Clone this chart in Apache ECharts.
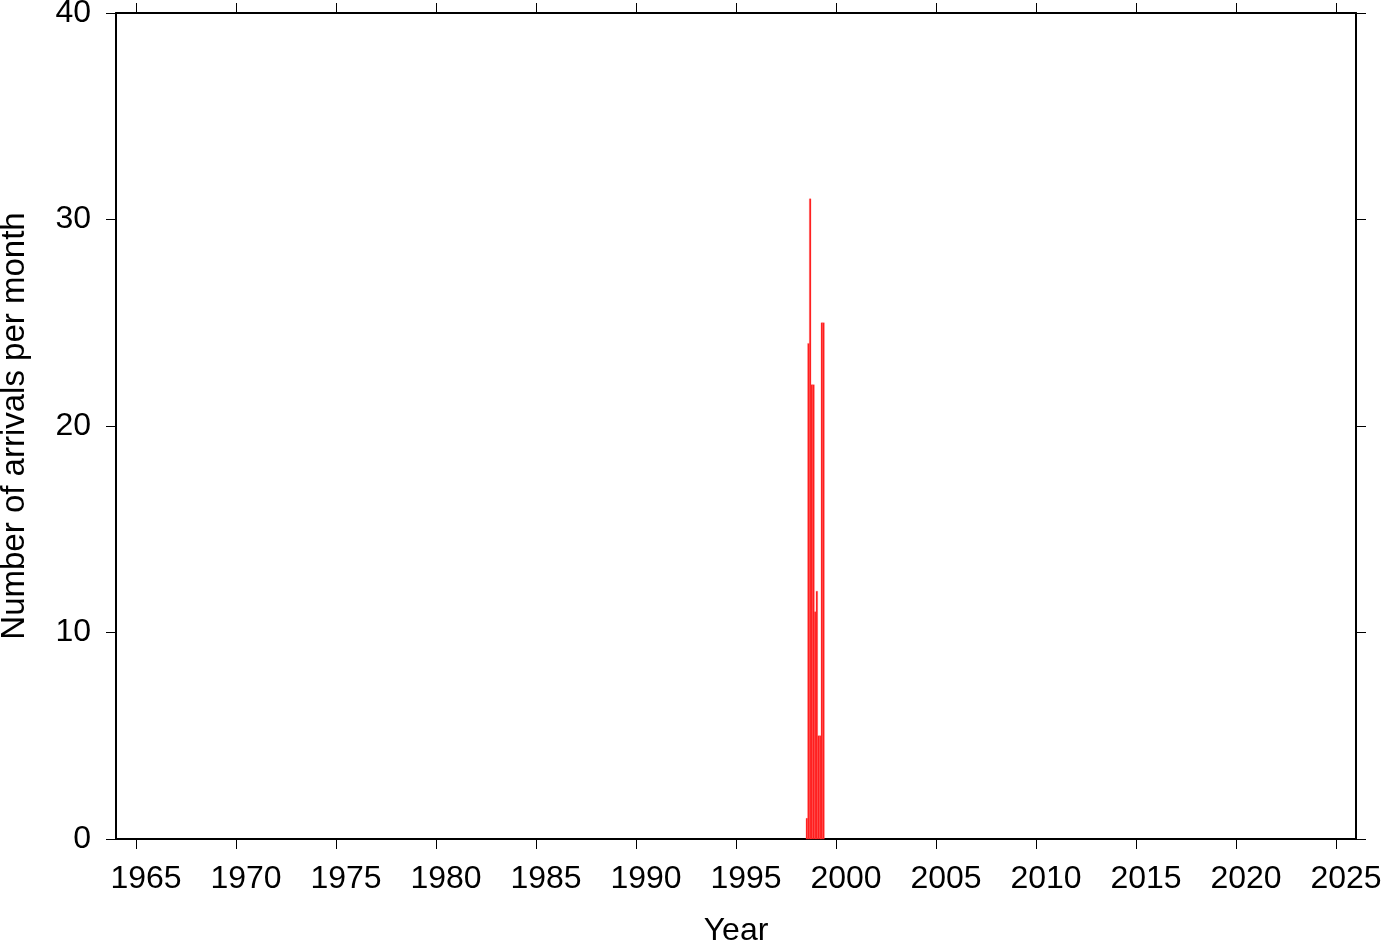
<!DOCTYPE html>
<html>
<head>
<meta charset="utf-8">
<style>html,body{margin:0;padding:0;background:#fff}#c{width:1382px;height:942px}</style>
<script src="https://cdn.jsdelivr.net/npm/echarts@6/dist/echarts.min.js"></script>
</head>
<body>
<div id="c"></div>
<script>
// Monthly arrival counts (year, month, count)
const months = ['1998-07','1998-08','1998-09','1998-10','1998-11','1998-12','1999-01','1999-02','1999-03','1999-04','1999-05'];
const counts = [1, 24, 31, 22, 22, 11, 12, 5, 5, 25, 25];
const xTicks = [1965,1970,1975,1980,1985,1990,1995,2000,2005,2010,2015,2020,2025];
const yTicks = [0,10,20,30,40];

const data = months.map((m, i) => {
  const [y, mo] = m.split('-').map(Number);
  const start = y + (mo - 1) / 12;
  return [start, start + 1 / 12, counts[i]];
});

const FONT = 'Liberation Sans, Arial, Helvetica, sans-serif';
const FS = 32;
const axisLine = { show: true, onZero: false, lineStyle: { color: '#000', width: 2 } };
const tick = { show: true, inside: false, length: 10, lineStyle: { color: '#000', width: 1 } };

const chart = echarts.init(document.getElementById('c'), null, { renderer: 'canvas' });
chart.setOption({
  animation: false,
  backgroundColor: '#fff',
  grid: { left: 116, right: 26, top: 13, bottom: 103, containLabel: false, outerBoundsMode: 'none' },
  xAxis: [
    {
      type: 'value', min: 1964, max: 2026, position: 'bottom',
      axisLine, splitLine: { show: false },
      axisTick: Object.assign({ customValues: xTicks }, tick),
      axisLabel: { customValues: xTicks, formatter: v => String(v), color: '#000', fontSize: FS, fontFamily: FONT, margin: 24, padding: [0, 0, 0, 20] },
      name: 'Year', nameLocation: 'middle', nameGap: 76,
      nameTextStyle: { color: '#000', fontSize: FS, fontFamily: FONT }
    },
    {
      type: 'value', min: 1964, max: 2026, position: 'top',
      axisLine, splitLine: { show: false },
      axisTick: Object.assign({ customValues: xTicks }, tick),
      axisLabel: { show: false }
    }
  ],
  yAxis: [
    {
      type: 'value', min: 0, max: 40, position: 'left',
      axisLine, splitLine: { show: false },
      axisTick: Object.assign({ customValues: yTicks }, tick),
      axisLabel: { customValues: yTicks, formatter: v => String(v), color: '#000', fontSize: FS, fontFamily: FONT, margin: 25 },
      name: 'Number of arrivals per month', nameLocation: 'middle', nameGap: 85,
      nameTextStyle: { color: '#000', fontSize: 33, fontFamily: FONT }
    },
    {
      type: 'value', min: 0, max: 40, position: 'right',
      axisLine, splitLine: { show: false },
      axisTick: Object.assign({ customValues: yTicks }, tick),
      axisLabel: { show: false }
    }
  ],
  series: [{
    type: 'custom',
    xAxisIndex: 0, yAxisIndex: 0,
    data: data,
    renderItem: function (params, api) {
      const p0 = api.coord([api.value(0), api.value(2)]);
      const p1 = api.coord([api.value(1), 0]);
      return {
        type: 'rect',
        shape: { x: p0[0], y: p0[1], width: p1[0] - p0[0], height: p1[1] - p0[1] },
        style: { fill: '#ff1a1a', stroke: '#ff4d4d', lineWidth: 0.3 }
      };
    }
  }]
});
</script>
</body>
</html>
